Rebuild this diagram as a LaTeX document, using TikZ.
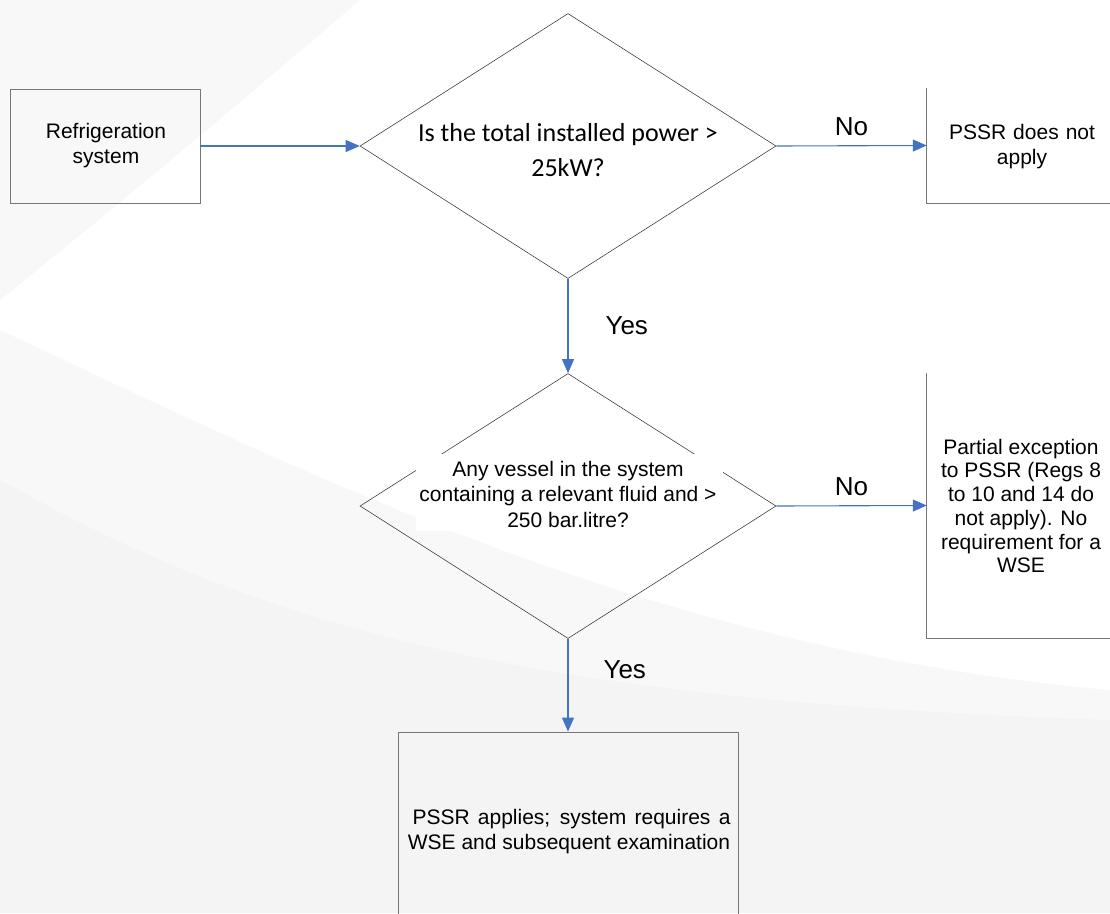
\documentclass[tikz,border=0pt]{standalone}
\usepackage{fontspec}
\setmainfont{Liberation Sans}
\newfontfamily\calib{Carlito}
\usetikzlibrary{arrows.meta,shapes.geometric}
\definecolor{arrowblue}{HTML}{4472C4}
\definecolor{boxgray}{HTML}{767676}
\definecolor{bgA}{HTML}{F4F4F4}
\definecolor{bgB}{HTML}{F8F8F8}
\begin{document}
\begin{tikzpicture}[x=1pt,y=-1pt,
  conn/.style={draw=arrowblue, line width=1.1pt, -{Triangle[length=14pt,width=12pt]}},
  procbox/.style={draw=boxgray, line width=0.9pt, inner sep=0pt},
  openbox/.style={inner sep=0pt},
  boxline/.style={draw=boxgray, line width=0.9pt},
  decision/.style={diamond, draw=black!75, line width=0.6pt, inner sep=0pt, minimum width=416pt, minimum height=265pt},
  bodytext/.style={font=\fontsize{21}{25}\selectfont, align=center, inner sep=0pt},
  lbl/.style={font=\fontsize{26}{30}\selectfont, inner sep=0pt}
]
\useasboundingbox (0,0) rectangle (1110,913);
% background swooshes
\fill[bgB] (0,0) -- (360,0) .. controls (220,120) and (100,220) .. (0,300) -- cycle;
\fill[bgB] (0,330) .. controls (300,470) and (650,650) .. (1110,690) -- (1110,913) -- (0,913) -- cycle;
\fill[bgA] (0,480) .. controls (250,620) and (500,700) .. (1110,720) -- (1110,913) -- (0,913) -- cycle;

% nodes
\node[procbox, minimum width=190pt, minimum height=114pt] (start) at (105,146) {};
\node[bodytext] (starttxt) at (106,146) {Refrigeration\\system};

\node[decision] (d1) at (568,146) {};
\node[font=\calib\fontsize{26}{35}\selectfont, align=center, inner sep=0pt] (d1txt) at (568,150) {Is the total installed power \textgreater\\25kW?};

\node[openbox, minimum width=190pt, minimum height=115pt] (na) at (1022,145.5) {};
\node[bodytext, text width=180pt] (natxt) at (1022,147) {PSSR does not\\apply};

\node[decision] (d2) at (568,506) {};
\node[fill=white, minimum width=307pt, minimum height=77pt, inner sep=0pt] (d2bg) at (569.5,492.5) {};
\node[bodytext, font=\fontsize{21}{25.5}\selectfont] (d2txt) at (568,494) {Any vessel in the system\\containing a relevant fluid and \textgreater\\250 bar.litre?};

\node[openbox, minimum width=190pt, minimum height=265pt] (pe) at (1022,505.5) {};
\node[bodytext, font=\fontsize{21}{23.7}\selectfont] (petxt) at (1021,506) {Partial exception\\to PSSR (Regs 8\\to 10 and 14 do\\not apply). No\\requirement for a\\WSE};

\node[procbox, minimum width=340pt, minimum height=200pt] (ap) at (568,832) {};
\node[bodytext] (aptxt) at (569,832) {\makebox[323pt][s]{\hspace{5pt}PSSR applies; system requires a}\\WSE and subsequent examination};

% partial boxes (cut at page edge)
\draw[boxline] (na.north west) -- (na.south west) -- (na.south east);
\draw[boxline] (pe.north west) -- (pe.south west) -- (pe.south east);

% connectors
\draw[conn] (start.east) -- (d1.west);
\draw[conn] (d1.east) -- node[lbl, above=9pt] (no1) {No} (na.west);
\draw[conn] (d1.south) -- node[lbl, right=37pt] (yes1) {Yes} (d2.north);
\draw[conn] (d2.east) -- node[lbl, above=9pt] (no2) {No} (pe.west);
\draw[conn] (d2.south) -- node[lbl, right=35pt, pos=0.33] (yes2) {Yes} (ap.north);
\end{tikzpicture}
\end{document}
